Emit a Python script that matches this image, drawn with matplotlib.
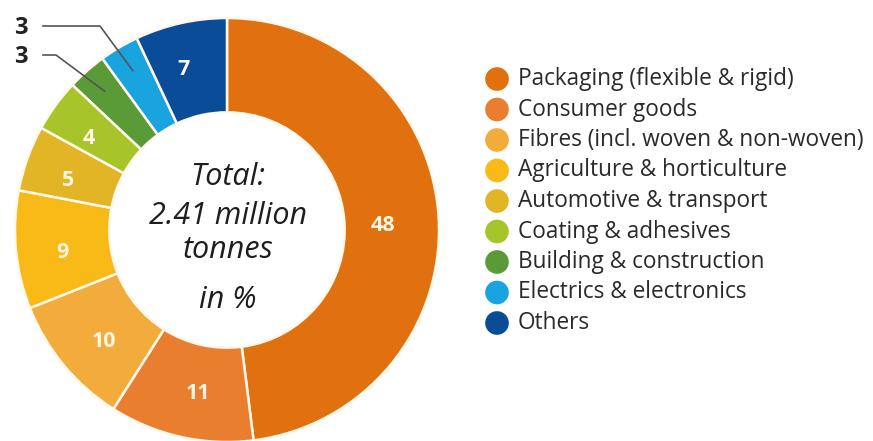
import numpy as np
import matplotlib.pyplot as plt

categories = ['Packaging (flexible & rigid)', 'Consumer goods',
              'Fibres (incl. woven & non-woven)', 'Agriculture & horticulture',
              'Automotive & transport', 'Coating & adhesives',
              'Building & construction', 'Electrics & electronics', 'Others']
shares = [48, 11, 10, 9, 5, 4, 3, 3, 7]
colors = ['#E1700F', '#E97E2E', '#F3AB3C', '#F9BA17', '#E1B526',
          '#A7C52A', '#5B9B37', '#19A4E0', '#0B4C98']

W, H = 873, 441
fig = plt.figure(figsize=(W / 100, H / 100), dpi=100)
ax = fig.add_axes([0, 0, 1, 1])

cx, cy, R = 227, H - 230, 212
ring = 0.445

wedges, _ = ax.pie(shares, colors=colors, startangle=90, counterclock=False,
                   center=(cx, cy), radius=R,
                   wedgeprops=dict(width=R * ring, edgecolor='#FFF8EC', linewidth=1.8))

ax.set_xlim(0, W)
ax.set_ylim(0, H)
ax.set_aspect('auto')
ax.axis('off')

# mid angle of every wedge (degrees, counted clockwise from 12 o'clock)
cum = np.cumsum([0] + shares)
mid = 90 - 360 * (cum[:-1] + cum[1:]) / 2 / 100

lab_r = 166
for i, v in enumerate(shares):
    if v <= 3:
        continue
    if v > 40:
        a, r = np.radians(mid[i] - 2), lab_r - 10
    else:
        a, r = np.radians(mid[i] + 2.5), lab_r
    ax.text(cx + r * np.cos(a), cy + r * np.sin(a), str(v),
            ha='center', va='center', color='#FFF6E6', fontsize=15.5,
            fontweight='bold', family='Open Sans')

# small slices get their value outside with a leader line
outside = [(7, 28, 100), (6, 57, 56)]
for (i, ty, kx) in outside:
    a = np.radians(mid[i])
    ex, ey = cx + 185 * np.cos(a), cy + 185 * np.sin(a)
    ax.plot([43, kx, ex], [H - ty + 2, H - ty + 2, ey], color='#555555', lw=1.2)
    ax.text(21, H - ty, str(shares[i]), ha='center', va='center',
            fontsize=17, fontweight='bold', color='#222222', family='Open Sans')

centre_font = dict(ha='center', va='center', fontsize=22, style='italic',
                   color='#1E1E1E', family='Open Sans')
ax.text(cx + 1, H - 177, 'Total:', **centre_font)
ax.text(cx + 1, H - 216, '2.41 million', **centre_font)
ax.text(cx + 1, H - 250, 'tonnes', **centre_font)
ax.text(cx + 1, H - 300, 'in %', **centre_font)

# legend
for i, name in enumerate(categories):
    y = H - (79 + i * 30.5)
    ax.scatter(497, y, s=290, color=colors[i], edgecolors='none')
    ax.text(518, y, name, ha='left', va='center', fontsize=16.3,
            color='#2A2A2A', family='Open Sans')

fig.savefig('out.png', dpi=100)
